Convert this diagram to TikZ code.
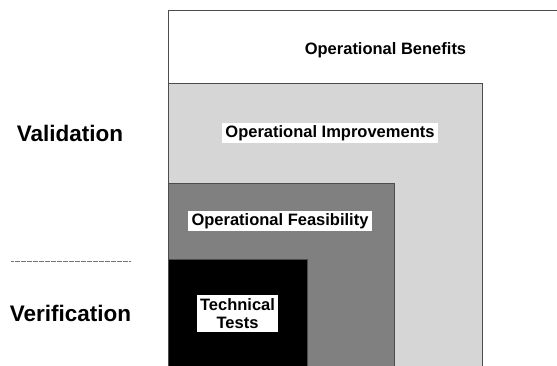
\documentclass[tikz,border=0pt]{standalone}
\usepackage{fontspec}
\setmainfont{Liberation Sans}
\usepackage{tikz}
\usetikzlibrary{positioning}

\tikzset{
  levelbox/.style={draw=black!70,line width=0.9pt},
  boxlabel/.style={fill=white,inner xsep=3.5pt,inner ysep=2.5pt,text height=12pt,text depth=3.5pt,
    font=\fontsize{16.5}{18.5}\selectfont\bfseries},
  sidelabel/.style={font=\fontsize{22.5}{26}\selectfont\bfseries}
}

\begin{document}
\begin{tikzpicture}[x=1pt,y=-1pt]
\useasboundingbox (0,0) rectangle (557,366);
\clip (0,0) rectangle (557,366);

\draw [levelbox,fill=white] (168,10) rectangle (600,400);
\draw [levelbox,fill=black!16] (168,83) rectangle (482,400);
\draw [levelbox,fill=black!50] (168,183) rectangle (394,400);
\draw [levelbox,fill=black] (168,259) rectangle (307,400);

\node (benefits) at (385.5,50) [boxlabel,fill=none] {Operational Benefits};
\node (improvements) at (330,133) [boxlabel] {Operational Improvements};
\node (feasibility) at (280,221) [boxlabel] {Operational Feasibility};
\node (tests) at (237.5,313.5) [boxlabel,align=center,text height=,text depth=,inner xsep=3.5pt,inner ysep=3pt] {Technical\\Tests};

\node (validation) at (70,133) [sidelabel] {Validation};
\node (verification) at (70.5,313) [sidelabel] {Verification};

\coordinate (splitl) at (11,261);
\coordinate (splitr) at (131,261);
\draw [black!55,line width=0.6pt,dash pattern=on 0.5pt off 0.7pt] (splitl) -- (splitr);
\end{tikzpicture}
\end{document}
